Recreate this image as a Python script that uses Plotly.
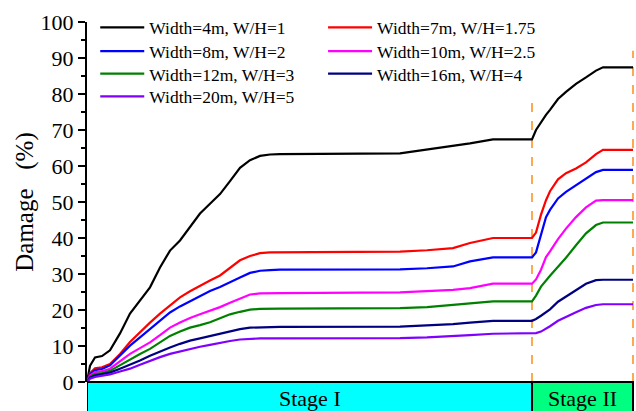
import plotly.graph_objects as go

# Loading step (time axis); Stage I ends at step 445, Stage II ends at 546
step = [0, 3, 8, 15, 23, 33, 43, 53, 63, 73, 83, 93, 103, 113, 123, 133, 143,
        153, 163, 173, 183, 193, 313, 340, 366, 383, 406, 445, 449, 454, 459,
        463, 471, 479, 489, 499, 509, 516, 546]

w4 = [0, 4.5, 6.8, 7.2, 8.8, 13.5, 19.0, 22.6, 26.3, 31.8, 36.5, 39.3, 43.0,
      46.8, 49.5, 52.2, 55.8, 59.5, 61.6, 62.8, 63.2, 63.3, 63.5, 64.5, 65.6,
      66.3, 67.4, 67.4, 70.0, 72.2, 74.2, 75.6, 78.6, 80.6, 82.8, 84.6, 86.5,
      87.4, 87.4]
w7 = [0, 2.5, 3.8, 4.1, 5.0, 7.8, 11.1, 13.9, 16.5, 19.0, 21.3, 23.5, 25.2,
      26.8, 28.2, 29.6, 31.6, 33.8, 35.0, 35.8, 36.0, 36.0, 36.2, 36.6, 37.2,
      38.6, 40.0, 40.0, 41.5, 46.5, 50.5, 53.0, 56.3, 58.0, 59.3, 61.0, 63.3,
      64.5, 64.5]
w8 = [0, 2.2, 3.3, 3.6, 4.6, 7.3, 10.1, 12.4, 14.7, 17.0, 19.3, 21.0, 22.5,
      23.9, 25.3, 26.4, 27.6, 29.0, 30.3, 30.9, 31.1, 31.2, 31.3, 31.6, 32.1,
      33.5, 34.6, 34.6, 36.0, 41.0, 45.8, 47.8, 51.0, 52.8, 54.6, 56.3, 58.3,
      58.9, 58.9]
w10 = [0, 1.8, 2.7, 3.0, 3.7, 5.7, 7.8, 9.4, 11.0, 13.0, 15.1, 16.5, 17.8,
       18.8, 19.7, 20.8, 22.0, 23.2, 24.3, 24.6, 24.7, 24.7, 24.9, 25.2, 25.6,
       26.1, 27.3, 27.3, 28.5, 31.2, 34.7, 36.3, 39.7, 42.6, 45.8, 48.5, 50.4,
       50.5, 50.5]
w12 = [0, 1.5, 2.2, 2.5, 3.1, 4.7, 6.4, 7.8, 9.2, 11.0, 12.8, 14.0, 15.1,
       15.8, 16.6, 17.7, 18.8, 19.5, 20.1, 20.3, 20.4, 20.4, 20.5, 20.8, 21.4,
       21.8, 22.4, 22.4, 24.0, 26.5, 28.3, 29.5, 32.0, 34.5, 38.0, 41.3, 43.6,
       44.3, 44.3]
w16 = [0, 1.2, 1.8, 2.1, 2.6, 3.7, 4.8, 6.0, 7.3, 8.5, 9.6, 10.6, 11.5, 12.1,
       12.8, 13.5, 14.2, 14.7, 15.1, 15.2, 15.3, 15.3, 15.4, 15.7, 16.1, 16.5,
       17.0, 17.0, 17.5, 18.4, 19.5, 20.2, 22.3, 23.8, 25.5, 27.3, 28.3, 28.4,
       28.4]
w20 = [0, 0.9, 1.4, 1.7, 2.1, 2.9, 3.7, 4.8, 5.9, 6.9, 7.8, 8.5, 9.2, 9.8,
       10.3, 10.9, 11.4, 11.8, 12.0, 12.1, 12.1, 12.1, 12.2, 12.4, 12.7, 13.0,
       13.4, 13.4, 13.6, 14.0, 14.8, 15.5, 17.0, 18.1, 19.4, 20.6, 21.4, 21.6,
       21.6]

series_names = ["Width=4m, W/H=1", "Width=7m, W/H=1.75",
                "Width=8m, W/H=2", "Width=10m, W/H=2.5",
                "Width=12m, W/H=3", "Width=16m, W/H=4",
                "Width=20m, W/H=5"]
series_values = [w4, w7, w8, w10, w12, w16, w20]
series_colors = ["#000000", "#ff0000", "#0000ff", "#ff00ff",
                 "#008000", "#000080", "#8000ff"]

stage_labels = ["Stage I", "Stage II"]
stage_bounds = [0, 445, 546]
stage_colors = ["#00ffff", "#00ff80"]
guide_tops = [79, 92]

FONT = "Liberation Serif, Times New Roman, serif"

# key entries: two columns, four rows (paper coordinates of each entry)
key_cols = [0.015, 0.430]
key_rows = [1.035, 0.969, 0.906, 0.843]

fig = go.Figure()
legend_layout = {}
for i, (name, vals, col) in enumerate(zip(series_names, series_values,
                                           series_colors)):
    lg = "legend" if i == 0 else f"legend{i + 1}"
    fig.add_trace(go.Scatter(x=step, y=vals, name=name, mode="lines",
                             legend=lg, line=dict(color=col, width=2.2)))
    legend_layout[lg] = dict(x=key_cols[i % 2], y=key_rows[i // 2],
                             xanchor="left", yanchor="top", itemwidth=44,
                             font=dict(family=FONT, size=17.5),
                             bgcolor="rgba(0,0,0,0)")

shapes = []
annotations = []
for i, lab in enumerate(stage_labels):
    x0, x1 = stage_bounds[i], stage_bounds[i + 1]
    shapes.append(dict(type="rect", xref="x", yref="paper", x0=x0, x1=x1,
                       y0=-0.2, y1=0, fillcolor=stage_colors[i],
                       line=dict(color="black", width=2), layer="above"))
    annotations.append(dict(text=lab, xref="x", yref="paper",
                            x=(x0 + x1) / 2, y=-0.045, showarrow=False,
                            font=dict(family=FONT, size=22, color="black"),
                            yanchor="middle"))
for xb, top in zip(stage_bounds[1:], guide_tops):
    shapes.append(dict(type="line", xref="x", yref="y", x0=xb, x1=xb,
                       y0=0, y1=top,
                       line=dict(color="#ff8c1a", width=1.5, dash="dash"),
                       layer="below"))

fig.update_layout(
    width=636, height=411,
    margin=dict(l=87, r=0, t=22, b=29),
    paper_bgcolor="white", plot_bgcolor="white",
    font=dict(family=FONT, color="black"),
    showlegend=True,
    xaxis=dict(visible=False, range=[0, 549]),
    yaxis=dict(range=[0, 100], dtick=10, showgrid=False, zeroline=False,
               showline=True, linecolor="black", linewidth=2,
               ticks="outside", ticklen=7, tickwidth=2, tickcolor="black",
               minor=dict(dtick=5, ticks="outside", ticklen=4, tickwidth=2,
                          tickcolor="black"),
               tickfont=dict(family=FONT, size=22, color="black"),
               title=dict(text="Damage\u00a0\u00a0\u00a0(%)", standoff=0,
                          font=dict(family=FONT, size=25, color="black"))),
    shapes=shapes, annotations=annotations,
    **legend_layout,
)

fig.write_html("out.html")
